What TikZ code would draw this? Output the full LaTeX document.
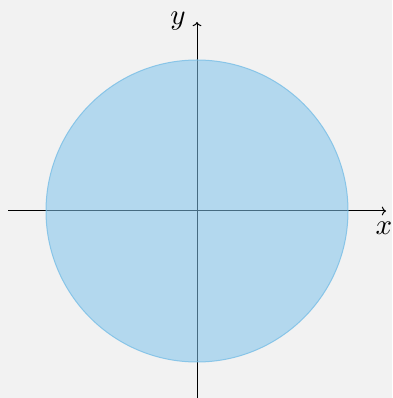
\documentclass[tikz,border=0pt]{standalone}
\usetikzlibrary{arrows.meta}
\definecolor{bgc}{RGB}{242,242,242}
\definecolor{discfill}{RGB}{129,195,235}
\definecolor{discline}{RGB}{120,190,230}
\begin{document}
\begin{tikzpicture}[x=1pt,y=1pt,
  axis/.style={line width=1pt,-{To[scale=1.1]}},
  lab/.style={scale=2.9, inner sep=0pt}]
\fill[bgc] (0,0) rectangle (392,398);
\useasboundingbox (0,0) rectangle (392,398);
\coordinate (xs) at (8,187);
\coordinate (xe) at (386,187);
\coordinate (ys) at (197,0);
\coordinate (ye) at (197,376);
\draw[axis] (xs) -- (xe);
\draw[axis] (ys) -- (ye);
\node[circle, minimum size=302pt, inner sep=0pt, fill=discfill, fill opacity=0.55, draw=discline, draw opacity=0.8, line width=1pt] (disc) at (197,187) {};
\node[lab] (xl) at (384,170) {$x$};
\node[lab] (yl) at (178,377) {$y$};
\end{tikzpicture}
\end{document}
